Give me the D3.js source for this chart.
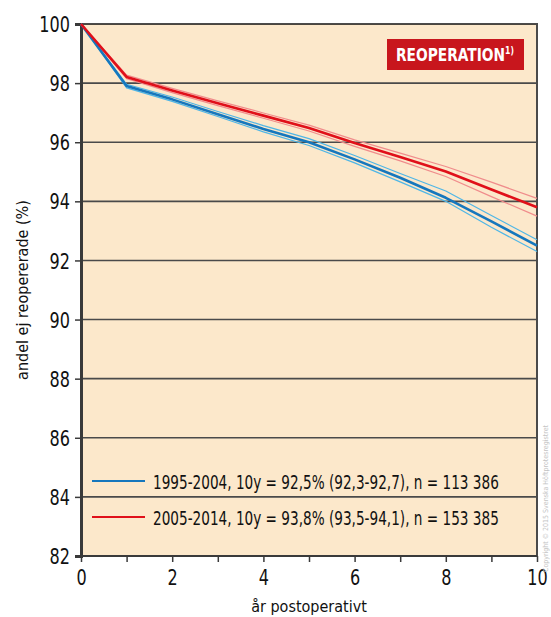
<!DOCTYPE html>
<html><head><meta charset="utf-8">
<script src="https://cdn.jsdelivr.net/npm/d3@7"></script>
<style>body{margin:0;background:#fff}svg{display:block}text{font-family:"DejaVu Sans Condensed","Liberation Sans Narrow","Liberation Sans",sans-serif;font-stretch:condensed}</style>
</head><body>
<script>
const years = [0,1,2,3,4,5,6,7,8,9,10];
const blueMain  = [100,97.90,97.45,96.95,96.45,96.00,95.42,94.80,94.12,93.32,92.50];
const blueUpper = [100,97.96,97.53,97.04,96.56,96.12,95.55,94.94,94.35,93.52,92.70];
const blueLower = [100,97.84,97.38,96.87,96.35,95.89,95.30,94.66,94.00,93.12,92.30];
const redMain   = [100,98.21,97.75,97.32,96.90,96.48,95.97,95.50,95.01,94.40,93.80];
const redUpper  = [100,98.27,97.82,97.40,96.99,96.58,96.08,95.63,95.18,94.65,94.10];
const redLower  = [100,98.15,97.68,97.24,96.81,96.38,95.86,95.37,94.84,94.16,93.50];
const yTicks = [82,84,86,88,90,92,94,96,98,100];
const xLabels = [0,2,4,6,8,10];
const legendLabels = ["1995-2004, 10y = 92,5% (92,3-92,7), n = 113 386","2005-2014, 10y = 93,8% (93,5-94,1), n = 153 385"];

const W=551,H=617;
const svg=d3.select("body").append("svg").attr("width",W).attr("height",H);
const x=d3.scaleLinear().domain([0,10]).range([81,537]);
const y=d3.scaleLinear().domain([82,100]).range([556,24]);

function squeeze(sel,x0,y0,target,anchor){
  const w=sel.node().getComputedTextLength();
  const sx=Math.min(1,target/w);
  sel.attr("x",0).attr("y",0).attr("transform",`translate(${x0},${y0}) scale(${sx},1)`);
  if(anchor) sel.attr("text-anchor",anchor);
}

svg.append("rect").attr("x",x(0)).attr("y",y(100)).attr("width",x(10)-x(0)).attr("height",y(82)-y(100)).attr("fill","#fce8cb");

// grid
svg.append("g").selectAll("line").data(yTicks.filter(d=>d>82)).join("line")
 .attr("x1",x(0)).attr("x2",x(10)).attr("y1",d=>y(d)).attr("y2",d=>y(d))
 .attr("stroke",d=>d===100?"#111":"#4a4a4a").attr("stroke-width",1.6);

// right border
svg.append("line").attr("x1",x(10)).attr("x2",x(10)).attr("y1",y(100)-1).attr("y2",y(82)).attr("stroke","#4a4a4a").attr("stroke-width",2);

// y axis
const yAxis=d3.axisLeft(y).tickValues(yTicks).tickSize(6).tickFormat(d3.format("d"));
const gy=svg.append("g").attr("transform",`translate(${x(0)},0)`).call(yAxis);
gy.select(".domain").attr("stroke","#3a3a3a").attr("stroke-width",3);
gy.selectAll(".tick line").attr("stroke","#3a3a3a").attr("stroke-width",1.5);
gy.selectAll(".tick text").attr("font-size",21).attr("fill","#111").attr("dy","0.36em")
  .each(function(){const s=d3.select(this);const w=this.getComputedTextLength();s.attr("x",0).attr("transform",`translate(-11,0) scale(0.85,1)`);});

// x axis
const xAxis=d3.axisBottom(x).tickValues(years).tickSize(6).tickFormat(d=>xLabels.includes(d)?d:"");
const gx=svg.append("g").attr("transform",`translate(0,${y(82)})`).call(xAxis);
gx.select(".domain").attr("stroke","#3a3a3a").attr("stroke-width",2).attr("d",`M${x(0)},0H${x(10)}`);
gx.selectAll(".tick line").attr("stroke","#3a3a3a").attr("stroke-width",1.5);
gx.selectAll(".tick text").attr("font-size",21).attr("fill","#111").attr("y",0).attr("dy","0.71em")
  .attr("transform","translate(0,14) scale(0.85,1)");

// axis titles
svg.append("text").attr("transform",`translate(28,${(y(100)+y(82))/2}) rotate(-90)`).attr("text-anchor","middle")
 .attr("font-size",16).attr("fill","#111").text("andel ej reopererade (%)");
svg.append("text").attr("x",(x(0)+x(10))/2).attr("y",612).attr("text-anchor","middle")
 .attr("font-size",16).attr("fill","#111").text("år postoperativt");

// lines
const line=d3.line().x((d,i)=>x(years[i])).y(d=>y(d));
const series=[
 {d:blueUpper,c:"#4fb6e6",w:1.2},{d:blueLower,c:"#4fb6e6",w:1.2},
 {d:redUpper,c:"#f08c8c",w:1.2},{d:redLower,c:"#f08c8c",w:1.2},
 {d:blueMain,c:"#1677bd",w:2.6},{d:redMain,c:"#e0101a",w:2.6}];
svg.append("g").selectAll("path").data(series).join("path")
 .attr("d",s=>line(s.d)).attr("fill","none").attr("stroke",s=>s.c).attr("stroke-width",s=>s.w).attr("stroke-linejoin","round");

// legend
const leg=svg.append("g");
[["#1677bd",481],["#e0101a",517]].forEach((c,i)=>{
 leg.append("line").attr("x1",92).attr("x2",145).attr("y1",c[1]).attr("y2",c[1]).attr("stroke",c[0]).attr("stroke-width",2);
 const tx=leg.append("text").attr("font-size",20).attr("fill","#111").text(legendLabels[i]);
 squeeze(tx,153,c[1]+8,346);
});

// title badge
svg.append("rect").attr("x",387).attr("y",39).attr("width",137).attr("height",31).attr("fill","#c8161d");
const t=svg.append("text").attr("fill","#fff").attr("font-weight","bold").attr("font-size",18);
t.append("tspan").text("REOPERATION");
t.append("tspan").attr("font-size",10).attr("dy",-7).text("1)");
squeeze(t,396,61,118);

// copyright (faint)
const cp=svg.append("text").attr("font-size",7).attr("fill","#c4c4c4")
 .text("Copyright © 2015 Svenska Höftprotesregistret");
cp.attr("transform","translate(548,572) rotate(-90)");
</script>
</body></html>
